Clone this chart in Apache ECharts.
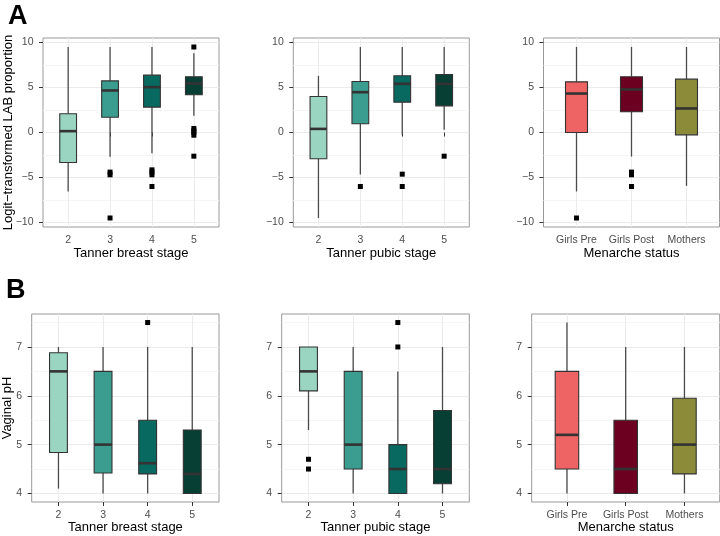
<!DOCTYPE html>
<html>
<head>
<meta charset="utf-8">
<script src="https://cdn.jsdelivr.net/npm/echarts@6/dist/echarts.min.js"></script>
<style>
html,body{margin:0;padding:0;background:#fff;}
#chart{width:720px;height:536px;}
</style>
</head>
<body>
<div id="chart"></div>
<script>
// ---------- Data ----------
const tannerCategories = ['2', '3', '4', '5'];
const menarcheCategories = ['Girls Pre', 'Girls Post', 'Mothers'];

const tannerColors = ['#99D5C0', '#3A9D90', '#07695F', '#073F35'];
const menarcheColors = ['#EE6363', '#6B0021', '#8B8B3A'];

const labTicks = [-10, -5, 0, 5, 10];
const labMinorTicks = [-7.5, -2.5, 2.5, 7.5];
const phTicks = [4, 5, 6, 7];
const phMinorTicks = [4.5, 5.5, 6.5, 7.5];

// box stats: [lower whisker, Q1, median, Q3, upper whisker]
const labBreastStats = [
  [-6.55, -3.33, 0.15, 2.08, 9.5],
  [-2.7, 1.7, 4.67, 5.74, 9.5],
  [-2.3, 2.82, 5.04, 6.37, 9.5],
  [1.85, 4.19, 5.45, 6.2, 8.8]
];
const labBreastOutliers = [[], [-4.4, -4.7, -9.5], [-4.15, -4.4, -4.7, -6.0], [9.5, 0.45, 0.2, 0, -0.3, -2.63]];

const labPubicStats = [
  [-9.5, -2.92, 0.4, 4.0, 6.3],
  [-4.67, 0.97, 4.48, 5.67, 9.5],
  [-0.26, 3.37, 5.41, 6.3, 9.5],
  [0.3, 2.96, 5.41, 6.44, 9.5]
];
const labPubicOutliers = [[], [-6.0], [-4.63, -6.0], [-2.63]];

const labMenarcheStats = [
  [-6.55, 0, 4.33, 5.63, 9.5],
  [-2.67, 2.3, 4.78, 6.19, 9.5],
  [-5.93, -0.26, 2.67, 5.93, 9.5]
];
const labMenarcheOutliers = [[-9.5], [-4.4, -4.7, -6.0], []];

const phBreastStats = [
  [4.1, 4.84, 6.5, 6.88, 7.0],
  [4.0, 4.42, 5.0, 6.5, 7.0],
  [4.0, 4.4, 4.62, 5.5, 7.0],
  [4.0, 4.0, 4.4, 5.3, 7.0]
];
const phBreastOutliers = [[], [], [7.5], []];

const phPubicStats = [
  [5.3, 6.1, 6.5, 7.0, 7.0],
  [4.0, 4.5, 5.0, 6.5, 7.0],
  [4.0, 4.0, 4.5, 5.0, 6.5],
  [4.0, 4.2, 4.5, 5.7, 7.0]
];
const phPubicOutliers = [[4.7, 4.5], [], [7.5, 7.0], []];

const phMenarcheStats = [
  [4.0, 4.5, 5.2, 6.5, 7.5],
  [4.0, 4.0, 4.5, 5.5, 7.0],
  [4.0, 4.4, 5.0, 5.95, 7.0]
];
const phMenarcheOutliers = [[], [], []];

// ---------- Layout ----------
const FONT = '"Liberation Sans", Arial, Helvetica, sans-serif';
const BOX_W = 0.4;

const panels = [
  {left: 43, top: 38, width: 176, height: 189, cats: tannerCategories, colors: tannerColors, stats: labBreastStats, out: labBreastOutliers, ymin: -10.5, ymax: 10.5, ticks: labTicks, minor: labMinorTicks},
  {left: 293.3, top: 38, width: 176, height: 189, cats: tannerCategories, colors: tannerColors, stats: labPubicStats, out: labPubicOutliers, ymin: -10.5, ymax: 10.5, ticks: labTicks, minor: labMinorTicks},
  {left: 543.5, top: 38, width: 176, height: 189, cats: menarcheCategories, colors: menarcheColors, stats: labMenarcheStats, out: labMenarcheOutliers, ymin: -10.5, ymax: 10.5, ticks: labTicks, minor: labMinorTicks},
  {left: 31.7, top: 314, width: 187.3, height: 188, cats: tannerCategories, colors: tannerColors, stats: phBreastStats, out: phBreastOutliers, ymin: 3.825, ymax: 7.675, ticks: phTicks, minor: phMinorTicks},
  {left: 281.7, top: 314, width: 187.6, height: 188, cats: tannerCategories, colors: tannerColors, stats: phPubicStats, out: phPubicOutliers, ymin: 3.825, ymax: 7.675, ticks: phTicks, minor: phMinorTicks},
  {left: 531.7, top: 314, width: 188, height: 188, cats: menarcheCategories, colors: menarcheColors, stats: phMenarcheStats, out: phMenarcheOutliers, ymin: 3.825, ymax: 7.675, ticks: phTicks, minor: phMinorTicks}
];

const grids = [], xAxes = [], yAxes = [], series = [];

function renderBox(params, api) {
  const x = api.value(0);
  const lo = api.value(1), q1 = api.value(2), md = api.value(3), q3 = api.value(4), hi = api.value(5);
  const hw = BOX_W / 2;
  const pLo = api.coord([x, lo]);
  const pQ1 = api.coord([x, q1]);
  const pQ3 = api.coord([x, q3]);
  const pHi = api.coord([x, hi]);
  const tl = api.coord([x - hw, q3]);
  const br = api.coord([x + hw, q1]);
  const mL = api.coord([x - hw, md]);
  const mR = api.coord([x + hw, md]);
  const color = api.visual('color');
  const whisk = {stroke: '#4a4a4a', lineWidth: 1.3};
  return {
    type: 'group',
    children: [
      {type: 'line', shape: {x1: pLo[0], y1: pLo[1], x2: pQ1[0], y2: pQ1[1]}, style: whisk},
      {type: 'line', shape: {x1: pQ3[0], y1: pQ3[1], x2: pHi[0], y2: pHi[1]}, style: whisk},
      {type: 'rect', shape: {x: tl[0], y: tl[1], width: br[0] - tl[0], height: br[1] - tl[1]}, style: {fill: color, stroke: '#333', lineWidth: 1.1}},
      {type: 'line', shape: {x1: mL[0], y1: mL[1], x2: mR[0], y2: mR[1]}, style: {stroke: '#333', lineWidth: 2.6}}
    ]
  };
}

panels.forEach((p, i) => {
  const n = p.cats.length;
  const catValues = p.cats.map((c, k) => k + 1);
  grids.push({left: p.left, top: p.top, width: p.width, height: p.height, show: true, borderColor: '#999', borderWidth: 1, backgroundColor: '#fff'});
  xAxes.push({
    type: 'value', gridIndex: i, min: 0.4, max: n + 0.6,
    axisLine: {show: false},
    axisTick: {show: true, length: 4, customValues: catValues, lineStyle: {color: '#333', width: 1}},
    axisLabel: {show: true, customValues: catValues, margin: 7.5, color: '#4d4d4d', fontSize: 10.5, fontFamily: FONT,
      formatter: (v) => p.cats[Math.round(v) - 1]},
    splitLine: {show: true, lineStyle: {color: '#EBEBEB', width: 1}}
  });
  yAxes.push({
    type: 'value', gridIndex: i, min: p.ymin, max: p.ymax,
    axisLine: {show: false},
    axisTick: {show: true, length: 4, customValues: p.ticks, lineStyle: {color: '#333', width: 1}},
    axisLabel: {show: true, customValues: p.ticks, margin: 9.5, color: '#4d4d4d', fontSize: 10.5, fontFamily: FONT,
      formatter: (v) => (v < 0 ? '\u2212' + Math.abs(v) : String(v))},
    splitLine: {show: true, lineStyle: {color: '#EBEBEB', width: 1}}
  });
  yAxes.push({
    type: 'value', gridIndex: i, min: p.ymin, max: p.ymax,
    axisLine: {show: false},
    axisTick: {show: false, customValues: p.minor},
    axisLabel: {show: false, customValues: p.minor},
    splitLine: {show: true, lineStyle: {color: '#F5F5F5', width: 1}}
  });
  const major = yAxes.length - 2;
  series.push({
    type: 'custom', xAxisIndex: i, yAxisIndex: major, z: 3,
    renderItem: renderBox,
    encode: {x: 0, y: [1, 2, 3, 4, 5]},
    data: p.stats.map((s, k) => ({value: [k + 1].concat(s), itemStyle: {color: p.colors[k]}}))
  });
  const pts = [];
  p.out.forEach((arr, k) => arr.forEach(v => pts.push([k + 1, v])));
  series.push({
    type: 'scatter', xAxisIndex: i, yAxisIndex: major, z: 4,
    symbol: 'rect', symbolSize: 5, itemStyle: {color: '#000', opacity: 1},
    data: pts, silent: true
  });
});

const titleStyle = {fill: '#000', fontSize: 13, fontFamily: FONT, align: 'center', verticalAlign: 'middle'};
const graphics = [
  {type: 'text', x: 8, y: 16.5, style: {text: 'A', fill: '#000', fontSize: 27, fontWeight: 'bold', fontFamily: FONT, align: 'left', verticalAlign: 'middle'}},
  {type: 'text', x: 6, y: 290.5, style: {text: 'B', fill: '#000', fontSize: 27, fontWeight: 'bold', fontFamily: FONT, align: 'left', verticalAlign: 'middle'}},
  {type: 'text', x: 8, y: 132.5, rotation: Math.PI / 2, style: Object.assign({text: 'Logit\u2212transformed LAB proportion'}, titleStyle)},
  {type: 'text', x: 7, y: 408, rotation: Math.PI / 2, style: Object.assign({text: 'Vaginal pH'}, titleStyle)},
  {type: 'text', x: 131, y: 253, style: Object.assign({text: 'Tanner breast stage'}, titleStyle)},
  {type: 'text', x: 381.3, y: 253, style: Object.assign({text: 'Tanner pubic stage'}, titleStyle)},
  {type: 'text', x: 631.5, y: 253, style: Object.assign({text: 'Menarche status'}, titleStyle)},
  {type: 'text', x: 125.4, y: 527, style: Object.assign({text: 'Tanner breast stage'}, titleStyle)},
  {type: 'text', x: 375.5, y: 527, style: Object.assign({text: 'Tanner pubic stage'}, titleStyle)},
  {type: 'text', x: 625.7, y: 527, style: Object.assign({text: 'Menarche status'}, titleStyle)}
];

const chart = echarts.init(document.getElementById('chart'), null, {renderer: 'canvas'});
chart.setOption({
  backgroundColor: '#fff',
  animation: false,
  textStyle: {fontFamily: FONT},
  grid: grids,
  xAxis: xAxes,
  yAxis: yAxes,
  series: series,
  graphic: graphics
});
</script>
</body>
</html>
